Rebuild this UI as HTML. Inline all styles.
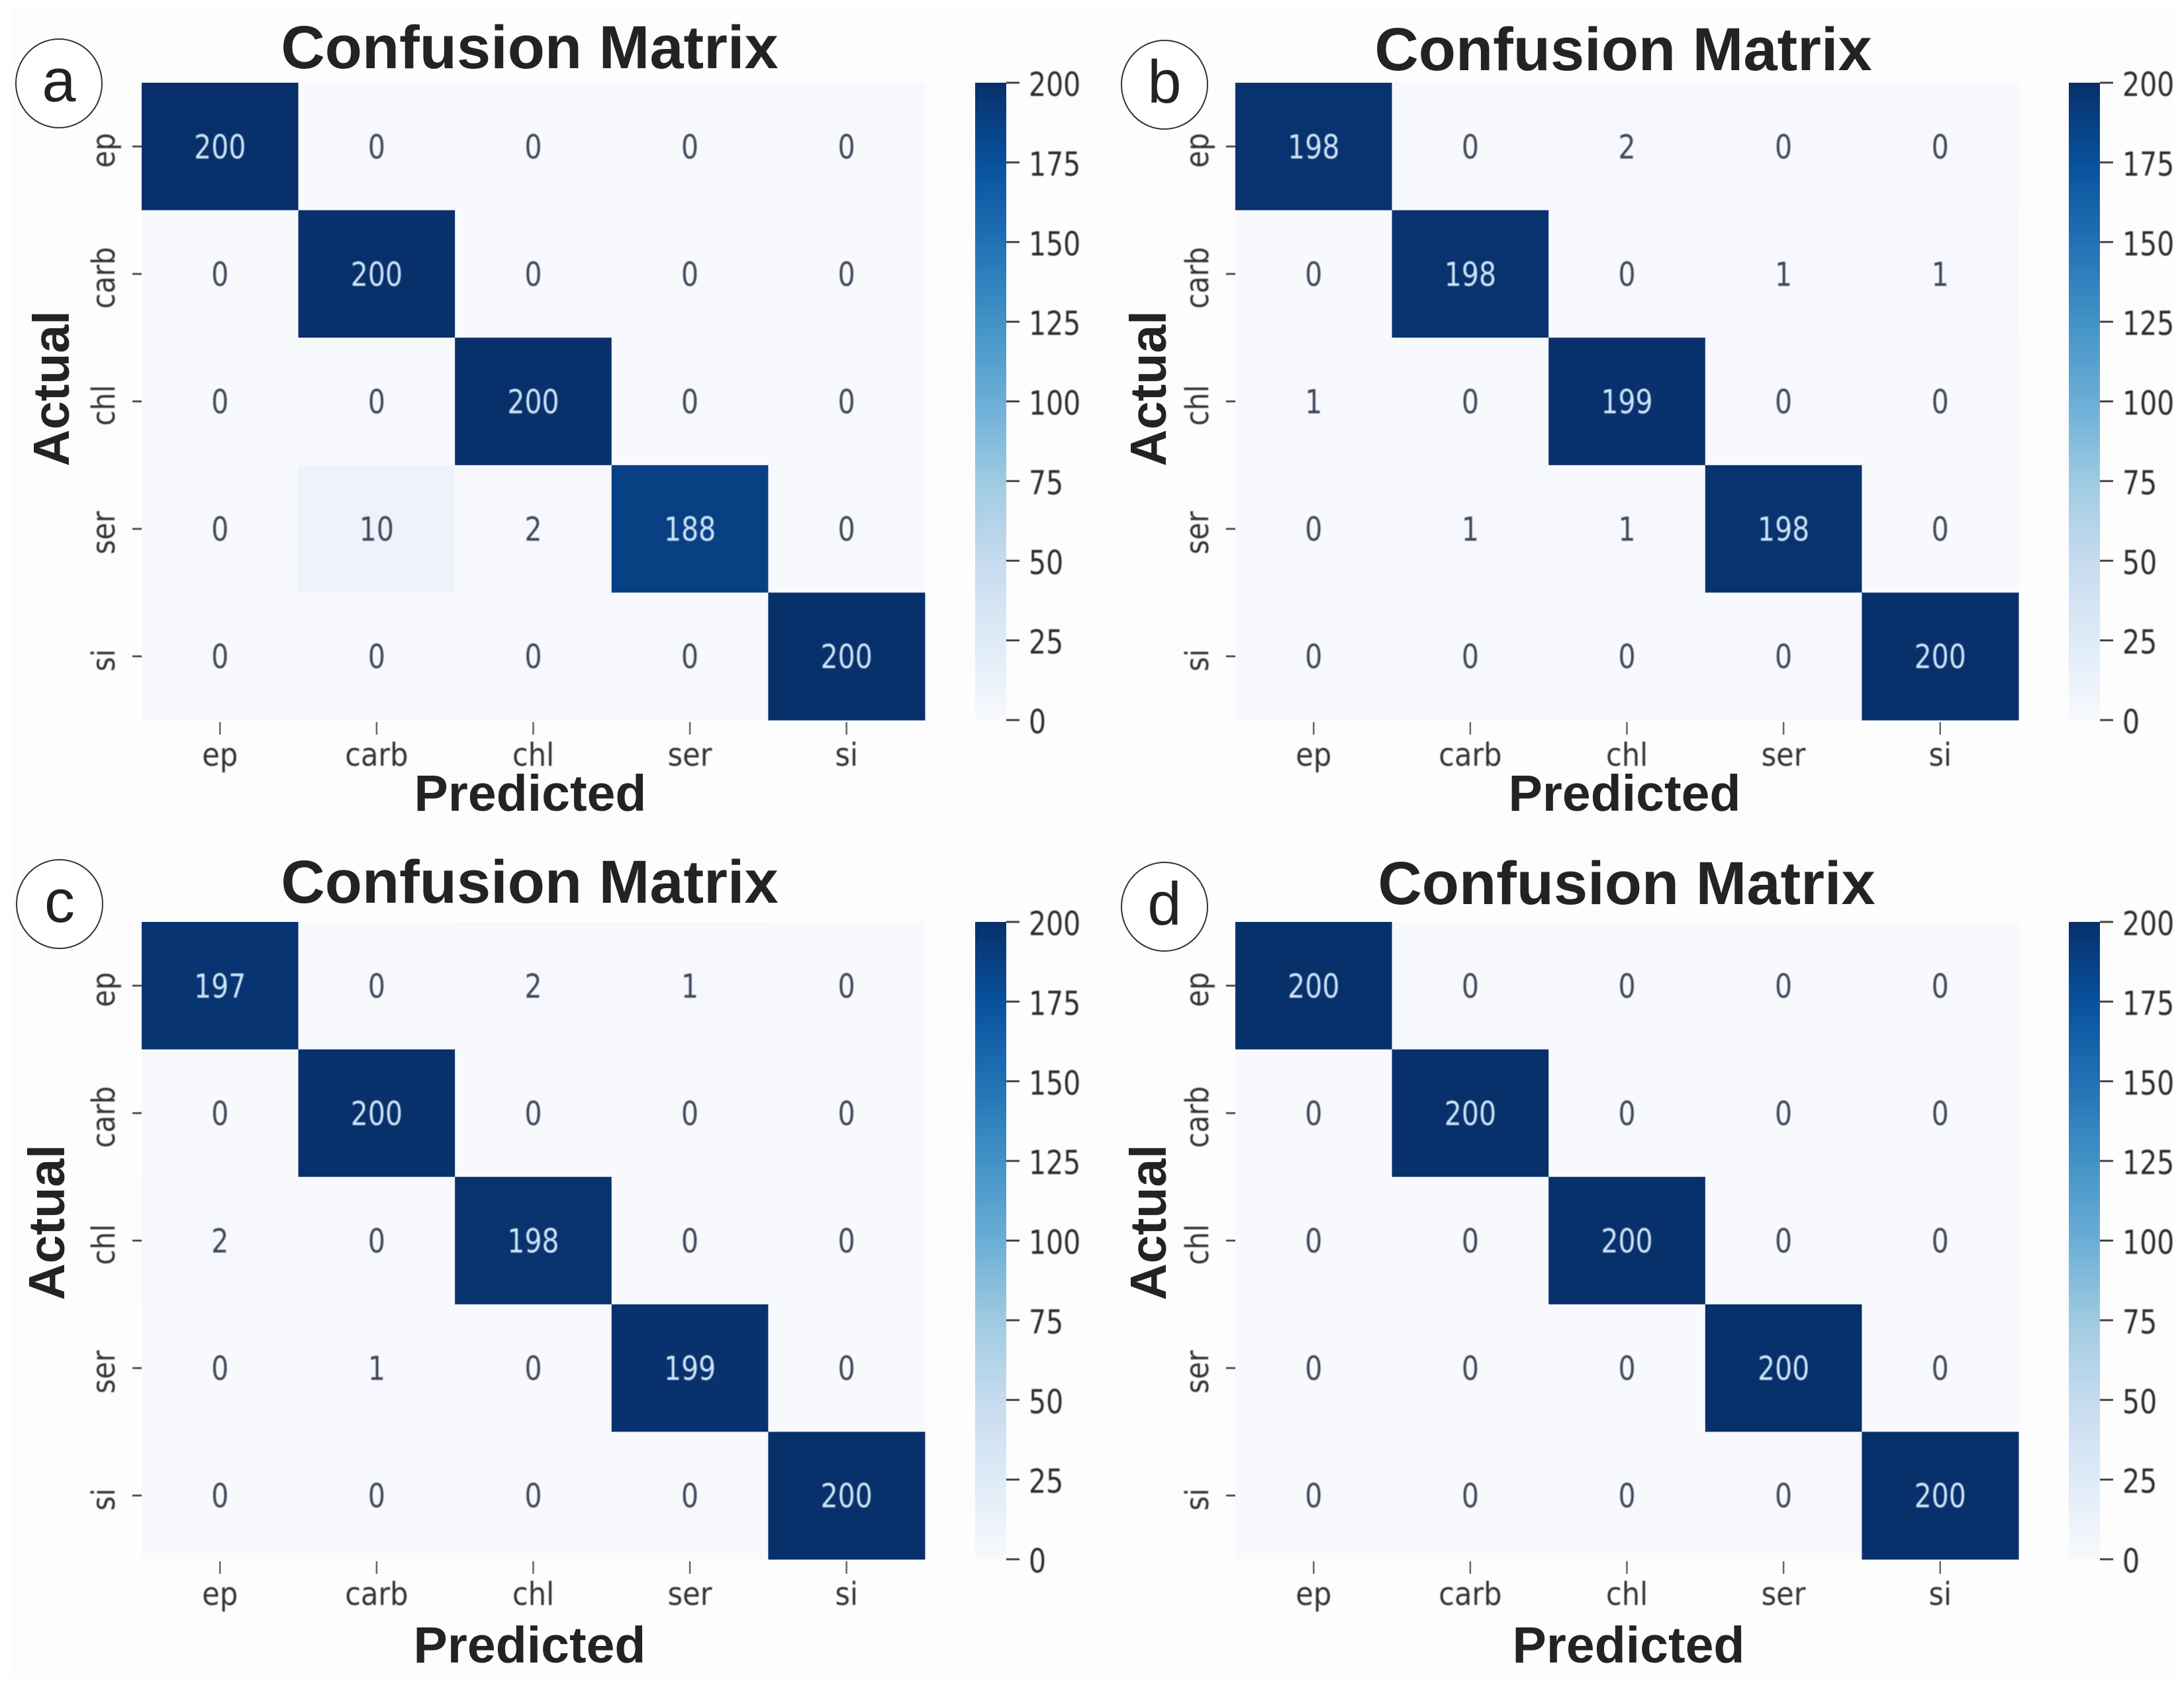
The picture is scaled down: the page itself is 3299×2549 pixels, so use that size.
<!DOCTYPE html>
<html lang="en">
<head>
<meta charset="utf-8">
<title>Confusion Matrices</title>
<style>
html,body{margin:0;padding:0;background:#fefefe;}
svg{display:block;}
.mpl{font-family:"DejaVu Sans",sans-serif;filter:blur(0.9px);}
.bold{font-family:"Liberation Sans",Arial,sans-serif;font-weight:700;fill:#232323;}
.panel-letter{font-family:"Liberation Sans",Arial,sans-serif;fill:#222;}
</style>
</head>
<body>
<svg id="figure" xmlns="http://www.w3.org/2000/svg" width="3299" height="2549" viewBox="0 0 3299 2549">
<rect x="0" y="0" width="3299" height="2549" fill="#ffffff"></rect>
<rect x="18" y="8" width="3265" height="2530" fill="#fdfdfe"></rect>
<defs>
<linearGradient id="blues-gradient" x1="0" y1="1" x2="0" y2="0"></linearGradient>
</defs>
</svg>
<script>
// ---- chart data ----
const categories = ["ep", "carb", "chl", "ser", "si"];
const colorbarTicks = [0, 25, 50, 75, 100, 125, 150, 175, 200];
const valuesA = [
  [200, 0, 0, 0, 0],
  [0, 200, 0, 0, 0],
  [0, 0, 200, 0, 0],
  [0, 10, 2, 188, 0],
  [0, 0, 0, 0, 200]
];
const valuesB = [
  [198, 0, 2, 0, 0],
  [0, 198, 0, 1, 1],
  [1, 0, 199, 0, 0],
  [0, 1, 1, 198, 0],
  [0, 0, 0, 0, 200]
];
const valuesC = [
  [197, 0, 2, 1, 0],
  [0, 200, 0, 0, 0],
  [2, 0, 198, 0, 0],
  [0, 1, 0, 199, 0],
  [0, 0, 0, 0, 200]
];
const valuesD = [
  [200, 0, 0, 0, 0],
  [0, 200, 0, 0, 0],
  [0, 0, 200, 0, 0],
  [0, 0, 0, 200, 0],
  [0, 0, 0, 0, 200]
];

// ---- colour map (seaborn Blues) ----
const bluesRamp = ["#f8f9fd", "#deebf7", "#c6dbef", "#9ecae1", "#6baed6", "#4292c6", "#2171b5", "#08519c", "#08306b"];
const colorMax = Math.max.apply(null, colorbarTicks);

function hexToRgb(h) {
  return [parseInt(h.slice(1, 3), 16), parseInt(h.slice(3, 5), 16), parseInt(h.slice(5, 7), 16)];
}
function colorOf(v) {
  const t = Math.max(0, Math.min(1, v / colorMax)) * (bluesRamp.length - 1);
  const i = Math.min(bluesRamp.length - 2, Math.floor(t));
  const f = t - i;
  const a = hexToRgb(bluesRamp[i]);
  const b = hexToRgb(bluesRamp[i + 1]);
  return "rgb(" + [0, 1, 2].map(function (k) { return Math.round(a[k] + (b[k] - a[k]) * f); }).join(",") + ")";
}

const NS = "http://www.w3.org/2000/svg";
const svg = document.getElementById("figure");

function mk(tag, attrs, parent, txt) {
  const n = document.createElementNS(NS, tag);
  Object.keys(attrs).forEach(function (k) { n.setAttribute(k, attrs[k]); });
  if (txt !== undefined) n.textContent = txt;
  parent.appendChild(n);
  return n;
}

const gradient = document.getElementById("blues-gradient");
bluesRamp.forEach(function (c, i) {
  mk("stop", { offset: i / (bluesRamp.length - 1), "stop-color": c }, gradient);
});

function drawPanel(p, values) {
  const g = mk("g", {}, svg);
  
  

  // axis functions
  const cols = categories.length;
  const rows = categories.length;
  const bw = p.w / cols;
  const bh = p.h / rows;
  const xBand = function (i) { return p.x + i * bw; };
  const yBand = function (i) { return p.y + i * bh; };
  const cbX = p.x + p.w + p.cbGap;
  const cbW = 47;
  const cbScale = function (v) { return p.y + p.h - (v / colorMax) * p.h; };

  // heatmap cells
  values.forEach(function (row, r) {
    row.forEach(function (v, c) {
      const cell = mk("rect", { x: xBand(c), y: yBand(r), width: bw + 0.5, height: bh + 0.5, fill: colorOf(v) }, g);
      
      
    });
  });
  // cell annotations
  values.forEach(function (row, r) {
    row.forEach(function (v, c) {
      const cx = xBand(c) + bw / 2;
      const cy = yBand(r) + bh / 2 + 18;
      const t = mk("text", {
        class: "mpl",
        transform: "translate(" + cx + "," + cy + ") scale(0.82,1)",
        "text-anchor": "middle",
        "font-size": 50,
        fill: v > colorMax / 2 ? "#cfe4f8" : "#42465a"
      }, g, String(v));
      
      
    });
  });

  // x axis ticks + labels
  categories.forEach(function (name, i) {
    const cx = xBand(i) + bw / 2;
    const tick = mk("line", { x1: cx, x2: cx, y1: p.y + p.h + 3, y2: p.y + p.h + 22, stroke: "#666", "stroke-width": 2.5 }, g);
    
    
    const t = mk("text", {
      class: "mpl",
      transform: "translate(" + cx + "," + (p.y + p.h + 69) + ") scale(0.9,1)",
      "text-anchor": "middle",
      "font-size": 48,
      fill: "#333"
    }, g, name);
    
    
  });

  // y axis ticks + labels
  categories.forEach(function (name, i) {
    const cy = yBand(i) + bh / 2;
    const tick = mk("line", { x1: p.x - 14, x2: p.x, y1: cy, y2: cy, stroke: "#555", "stroke-width": 3 }, g);
    
    
    const t = mk("text", {
      class: "mpl",
      transform: "translate(" + (p.x - 41) + "," + (cy + 6) + ") rotate(-90) scale(0.88,1)",
      "text-anchor": "middle",
      "font-size": 48,
      fill: "#333"
    }, g, name);
    
    
  });

  // colour bar
  const bar = mk("rect", { x: cbX, y: cbScale(colorMax), width: cbW, height: cbScale(0) - cbScale(colorMax), fill: "url(#blues-gradient)" }, g);
  
  
  colorbarTicks.forEach(function (v) {
    const y = cbScale(v);
    const tick = mk("line", { x1: cbX + cbW, x2: cbX + cbW + 20, y1: y, y2: y, stroke: "#444", "stroke-width": 3 }, g);
    
    
    const t = mk("text", {
      class: "mpl",
      transform: "translate(" + (cbX + cbW + 34) + "," + (y + 20) + ") scale(0.82,1)",
      "font-size": 50,
      fill: "#2c2c2c"
    }, g, String(v));
    
    
  });

  // titles
  const title = mk("text", { class: "bold", x: p.titleX, y: p.titleY, "text-anchor": "middle", "font-size": 92 }, g, "Confusion Matrix");
  
  
  const xTitle = mk("text", { class: "bold", x: p.predX, y: p.predY, "text-anchor": "middle", "font-size": 77 }, g, "Predicted");
  
  
  const yTitle = mk("text", { class: "bold", transform: "translate(" + p.actX + "," + p.actY + ") rotate(-90)", "text-anchor": "middle", "font-size": 77 }, g, "Actual");
  
  

  // panel letter
  const circle = mk("ellipse", { cx: p.circX, cy: p.circY, rx: 65, ry: 67, fill: "#ffffff", stroke: "#333", "stroke-width": 2 }, g);
  
  
  const letter = mk("text", { class: "panel-letter", x: p.circX, y: p.circY + 27, "text-anchor": "middle", "font-size": 92 }, g, p.letter);
  
  
}

drawPanel({ letter: "a", x: 214, y: 125, w: 1183, h: 963, cbGap: 76, titleX: 800, titleY: 103, predX: 801, predY: 1225, actX: 104, actY: 587, circX: 89, circY: 126 }, valuesA);
drawPanel({ letter: "b", x: 1866, y: 125, w: 1183, h: 963, cbGap: 76, titleX: 2452, titleY: 106, predX: 2454, predY: 1225, actX: 1761, actY: 587, circX: 1759, circY: 128 }, valuesB);
drawPanel({ letter: "c", x: 214, y: 1393, w: 1183, h: 963, cbGap: 76, titleX: 800, titleY: 1364, predX: 800, predY: 2512, actX: 97, actY: 1847, circX: 90, circY: 1366 }, valuesC);
drawPanel({ letter: "d", x: 1866, y: 1393, w: 1183, h: 963, cbGap: 76, titleX: 2457, titleY: 1366, predX: 2460, predY: 2512, actX: 1761, actY: 1847, circX: 1759, circY: 1370 }, valuesD);
</script>
</body>
</html>
